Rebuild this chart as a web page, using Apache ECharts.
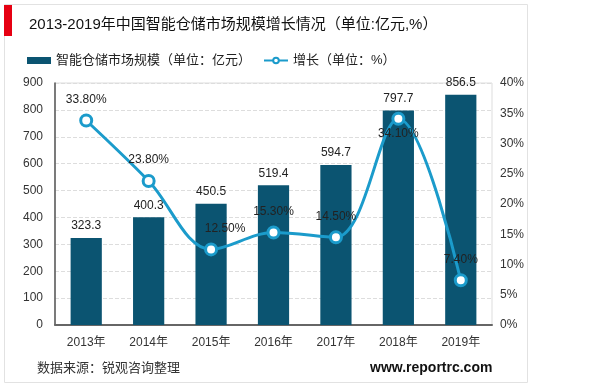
<!DOCTYPE html>
<html><head><meta charset="utf-8">
<script src="https://cdn.jsdelivr.net/npm/echarts@6/dist/echarts.min.js"></script>
<style>html,body{margin:0;padding:0;background:#fff}#c{width:600px;height:387px}</style>
</head><body><div id="c"></div>
<script>
const categories = ['2013年','2014年','2015年','2016年','2017年','2018年','2019年'];
const marketSize = [323.3, 400.3, 450.5, 519.4, 594.7, 797.7, 856.5];
const growth = [33.8, 23.8, 12.5, 15.3, 14.5, 34.1, 7.4];
const leftTicks = {min:0, max:900, interval:100};
const rightTicks = {min:0, max:40, interval:5};

const FONT = '"Liberation Sans", Arial, "Noto Sans CJK SC", sans-serif';
const chart = echarts.init(document.getElementById('c'), null, {renderer:'canvas'});
chart.setOption({
  animation:false,
  textStyle:{fontFamily:FONT},
  graphic:[
    {type:'rect', shape:{x:4.5,y:4.5,width:523,height:378}, style:{fill:'none', stroke:'#e2e2e2', lineWidth:1}, z:-1},
    {type:'rect', shape:{x:4,y:5,width:8,height:31}, style:{fill:'#e60012'}},
    {type:'text', left:37, top:362, style:{text:'数据来源：锐观咨询整理', font:'13px '+FONT, fill:'#333'}},
    {type:'text', left:370, top:361, style:{text:'www.reportrc.com', font:'bold 14px '+FONT, fill:'#111'}}
  ],
  title:{text:'2013-2019年中国智能仓储市场规模增长情况（单位:亿元,%）', left:24, top:12,
    textStyle:{fontSize:15, fontWeight:'normal', color:'#111', fontFamily:FONT}},
  legend:{left:22, top:49, itemGap:12, itemWidth:24, itemHeight:7,
    textStyle:{fontSize:13, color:'#222', fontFamily:FONT},
    data:[{name:'智能仓储市场规模（单位：亿元）', icon:'rect'}, {name:'增长（单位：%）'}]},
  grid:{left:55, right:108, top:83, bottom:62, show:true, borderColor:'#ddd', borderWidth:1},
  xAxis:{type:'category', data:categories,
    axisLine:{lineStyle:{color:'#666', width:2}}, axisTick:{show:false},
    axisLabel:{color:'#333', fontSize:12, margin:12}},
  yAxis:[
    {type:'value', min:leftTicks.min, max:leftTicks.max, interval:leftTicks.interval,
      axisLine:{show:true, lineStyle:{color:'#555', width:1.5}}, axisTick:{show:false},
      axisLabel:{color:'#333', fontSize:12, margin:12},
      splitLine:{lineStyle:{color:'#ddd', type:'dashed'}}},
    {type:'value', min:rightTicks.min, max:rightTicks.max, interval:rightTicks.interval,
      axisLine:{show:false}, axisTick:{show:false}, splitLine:{show:false},
      axisLabel:{color:'#333', fontSize:12, margin:8, formatter:'{value}%'}}
  ],
  series:[
    {name:'智能仓储市场规模（单位：亿元）', type:'bar', data:marketSize, barWidth:'50%',
      itemStyle:{color:'#0b5471'},
      label:{show:true, position:'top', color:'#222', fontSize:12, distance:6}},
    {name:'增长（单位：%）', type:'line', yAxisIndex:1, smooth:0.35,
      data:growth.map((v,i)=> i===5 ? {value:v, label:{position:'bottom', distance:2}} : (i===2 ? {value:v, label:{offset:[14,0]}} : v)),
      symbol:'circle', symbolSize:11,
      itemStyle:{color:'#fff', borderColor:'#1b9bcb', borderWidth:3},
      lineStyle:{color:'#1b9bcb', width:3},
      label:{show:true, position:'top', color:'#222', fontSize:12, distance:8,
        formatter:p=>p.value.toFixed(2)+'%'},
      z:5}
  ]
});
</script></body></html>
